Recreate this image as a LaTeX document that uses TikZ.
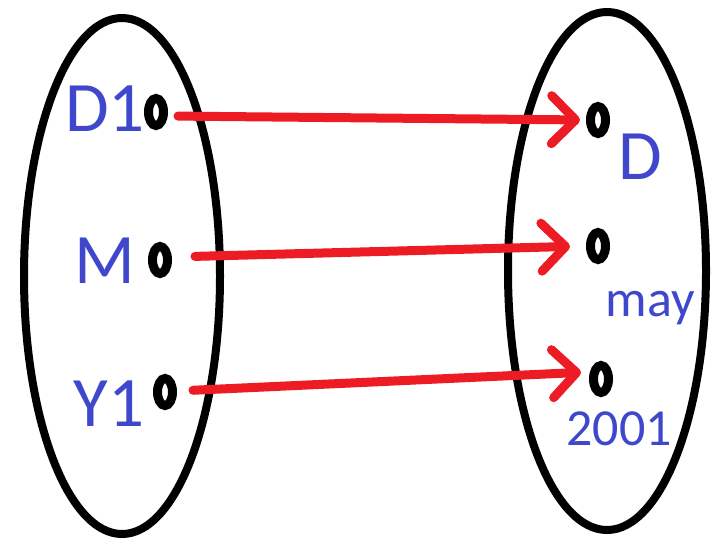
\documentclass[tikz,border=0pt]{standalone}
\usepackage{fontspec}
\setmainfont{Carlito}
\usetikzlibrary{arrows.meta,shapes.geometric}
\definecolor{lblue}{HTML}{3F48CC}
\definecolor{pred}{HTML}{ED1C24}
\tikzset{
  setring/.style={draw=black,line width=8pt},
  dotnode/.style={ellipse,draw=black,line width=9pt,minimum width=15pt,minimum height=27pt,inner sep=0pt},
  biglabel/.style={text=lblue,font=\fontsize{71pt}{71pt}\selectfont,inner sep=0pt,anchor=base},
  smalllabel/.style={text=lblue,font=\fontsize{52pt}{52pt}\selectfont,inner sep=0pt,anchor=base},
  maparrow/.style={draw=pred,line width=9pt,line cap=round,-{Straight Barb[length=24pt,width=48pt,round]}}
}
\begin{document}
\begin{tikzpicture}[x=1pt,y=-1pt]
\useasboundingbox (0,0) rectangle (711,541);
\draw[setring] (122,276) ellipse [x radius=98, y radius=258];
\draw[setring] (607,271) ellipse [x radius=99, y radius=259];
% left dots
\node[dotnode] (d1) at (156,112) {};
\node[dotnode] (m) at (160,260) {};
\node[dotnode] (y1) at (165,392) {};
% right dots
\node[dotnode] (dd) at (598,120) {};
\node[dotnode] (may) at (598,246) {};
\node[dotnode] (yr) at (601,379) {};
% labels
\node[biglabel] (td1) at (105,131) {D1};
\node[biglabel] (tm) at (105,283) {M};
\node[biglabel] (ty1) at (109,426) {Y1};
\node[biglabel] (tdd) at (640,179) {D};
\node[smalllabel] (tmay) at (650,316) {may};
\node[smalllabel] (tyr) at (619,445) {2001};
% arrows
\draw[maparrow,shorten <=10pt,shorten >=6pt] ([yshift=-4pt]d1.east) -- (dd.west);
\draw[maparrow,shorten <=23pt,shorten >=16pt] ([yshift=3pt]m.east) -- (may.west);
\draw[maparrow,shorten <=16pt,shorten >=8pt] ([yshift=1pt]y1.east) -- ([yshift=7pt]yr.west);
\end{tikzpicture}
\end{document}
